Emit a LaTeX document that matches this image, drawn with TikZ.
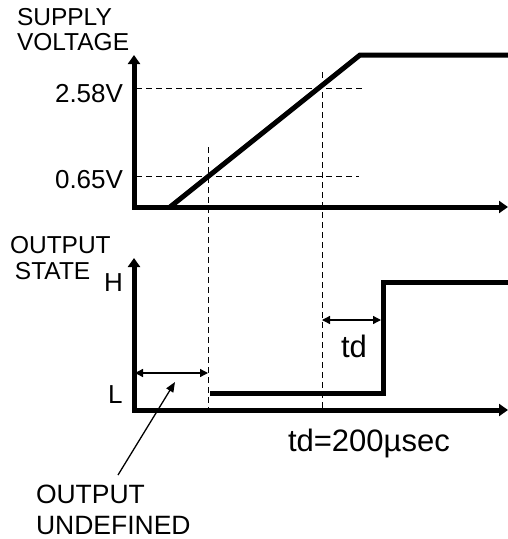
\documentclass[tikz,border=0pt]{standalone}
\usepackage{fontspec}
\setmainfont{Liberation Sans}
\usetikzlibrary{arrows.meta,positioning}

\begin{document}
\begin{tikzpicture}[
  x=1pt, y=-1pt,
  every node/.style={inner sep=0pt, outer sep=0pt},
  axlabel/.style={font=\fontsize{24.5}{28}\selectfont},
  level/.style={font=\fontsize{26}{30}\selectfont},
  note/.style={font=\fontsize{26.5}{30}\selectfont},
  timing/.style={font=\fontsize{31}{34}\selectfont},
  axis/.style={line width=5pt, line join=miter, {Triangle[length=9pt,width=12pt]}-{Triangle[length=9pt,width=12pt]}},
  signal/.style={line width=5pt, line join=miter},
  guide/.style={line width=0.9pt, dash pattern=on 6pt off 4pt},
  span/.style={line width=1.3pt, {Triangle[length=8pt,width=8pt]}-{Triangle[length=8pt,width=8pt]}},
  pointer/.style={line width=1.3pt, -{Triangle[length=10pt,width=8pt]}}
]
\useasboundingbox (0,0) rectangle (508,539);

% supply voltage axes
\coordinate (vtop) at (134,55);
\coordinate (vorg) at (134,207);
\coordinate (vend) at (508,207);
\draw[axis] (vtop) -- (vorg) -- (vend);

% output state axes
\coordinate (stop) at (134,258);
\coordinate (sorg) at (134,410);
\coordinate (send) at (508,410);
\draw[axis] (stop) -- (sorg) -- (send);

% guide lines
\coordinate (g1a) at (136,88);   \coordinate (g1b) at (362,88);
\coordinate (g2a) at (136,176);  \coordinate (g2b) at (359,176);
\coordinate (g3a) at (208,147);  \coordinate (g3b) at (208,410);
\coordinate (g4a) at (322,72);   \coordinate (g4b) at (322,410);
\draw[guide] (g1a) -- (g1b);
\draw[guide] (g2a) -- (g2b);
\draw[guide] (g3a) -- (g3b);
\draw[guide] (g4a) -- (g4b);

% supply ramp
\coordinate (r0) at (170,207);
\coordinate (r1) at (360,55);
\coordinate (r2) at (508,55);
\draw[signal] (r0) -- (r1) -- (r2);

% output state
\coordinate (s0) at (210,393);
\coordinate (s1) at (383,393);
\coordinate (s2) at (383,282);
\coordinate (s3) at (508,282);
\draw[signal] (s0) -- (s1) -- (s2) -- (s3);

% labels
\node[axlabel, anchor=base west] (supply) at (17,25) {SUPPLY};
\node[axlabel, anchor=base west] (voltage) at (17,50) {VOLTAGE};
\node[level, anchor=base east] (hi) at (123,102) {2.58V};
\node[level, anchor=base east] (lo) at (123,188) {0.65V};
\node[axlabel, anchor=base west] (output) at (10,253) {OUTPUT};
\node[axlabel, anchor=base west] (state) at (15,279) {STATE};
\node[level, anchor=base west] (hlev) at (104,291) {H};
\node[level, anchor=base west] (llev) at (108,403) {L};
\node[timing, anchor=base west] (td) at (341,357) {td};
\node[timing, anchor=base west] (tdval) at (288,451) {td=200µsec};
\node[note, anchor=base west] (undef1) at (36,503) {OUTPUT};
\node[note, anchor=base west] (undef2) at (36,534) {UNDEFINED};

% spans and pointer
\coordinate (u0) at (135,373);
\coordinate (u1) at (208,373);
\draw[span] (u0) -- (u1);
\coordinate (d0) at (322,320);
\coordinate (d1) at (381,320);
\draw[span] (d0) -- (d1);
\coordinate (p0) at (118,475);
\coordinate (p1) at (175,382);
\draw[pointer] (p0) -- (p1);
\end{tikzpicture}
\end{document}
